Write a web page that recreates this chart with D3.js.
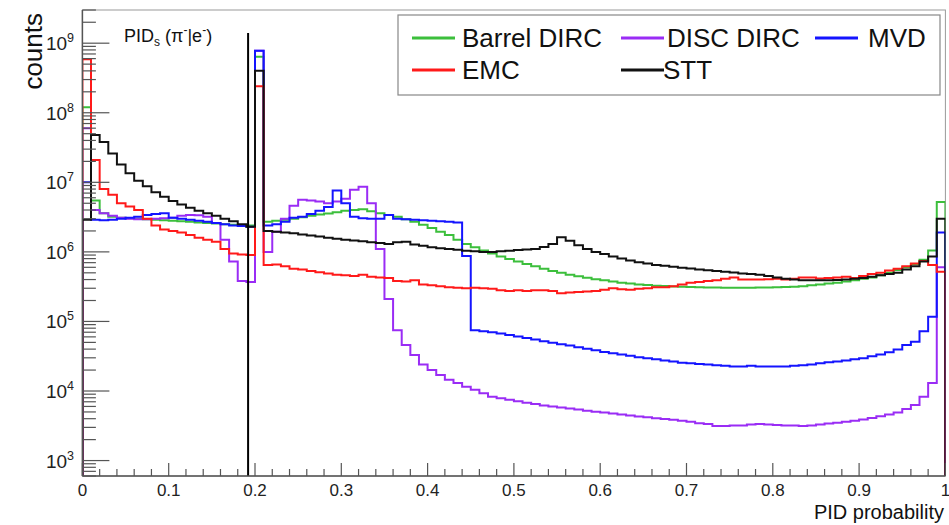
<!DOCTYPE html>
<html><head><meta charset="utf-8">
<script src="https://cdn.jsdelivr.net/npm/d3@7"></script>
<style>body{margin:0;background:#fff} svg{display:block} text{font-family:"Liberation Sans",Arial,Helvetica,sans-serif}</style>
</head><body><svg id="c" width="949" height="525"></svg>
<script>
// ---- data (100 bins of PID probability, width 0.01) ----
const nBins = 100;
const xDomain = [0, 1];
const xTickLabels = ["0","0.1","0.2","0.3","0.4","0.5","0.6","0.7","0.8","0.9","1"];
const yTickExponents = [3,4,5,6,7,8,9];
const cutValue = 0.192;

const barrelDIRC = [1.2e8,5.5e6,3.6e6,3.2e6,3.1e6,3.05e6,3.0e6,2.95e6,2.9e6,2.85e6,
2.8e6,2.75e6,2.7e6,2.65e6,2.6e6,2.55e6,2.5e6,2.45e6,2.42e6,2.4e6,
6.4e8,2.7e6,2.8e6,2.9e6,3.0e6,3.15e6,3.3e6,3.45e6,3.55e6,3.7e6,
3.9e6,4.0e6,4.1e6,3.85e6,3.6e6,3.4e6,3.2e6,2.95e6,2.7e6,2.45e6,
2.2e6,1.95e6,1.75e6,1.5e6,1.3e6,1.17e6,1.05e6,9.5e5,8.6e5,7.9e5,
7.3e5,6.7e5,6.2e5,5.7e5,5.3e5,5.0e5,4.7e5,4.45e5,4.25e5,4.05e5,
3.9e5,3.75e5,3.6e5,3.5e5,3.4e5,3.33e5,3.27e5,3.22e5,3.18e5,3.15e5,
3.12e5,3.1e5,3.08e5,3.07e5,3.06e5,3.05e5,3.05e5,3.06e5,3.07e5,3.08e5,
3.1e5,3.12e5,3.15e5,3.2e5,3.3e5,3.4e5,3.5e5,3.6e5,3.75e5,3.9e5,
4.1e5,4.3e5,4.6e5,5.0e5,5.5e5,6.0e5,6.7e5,7.7e5,1.05e6,5.2e6];

const discDIRC = [6.0e7,4.0e6,3.6e6,3.3e6,3.1e6,3.0e6,2.95e6,2.95e6,3.0e6,3.05e6,
3.1e6,3.3e6,3.4e6,3.35e6,3.2e6,2.6e6,1.5e6,7.3e5,3.8e5,3.7e5,
7.8e8,1.0e6,1.95e6,3.0e6,4.6e6,5.6e6,5.5e6,5.3e6,5.0e6,5.3e6,
5.8e6,7.8e6,8.6e6,5.0e6,1.1e6,2.1e5,7.5e4,4.6e4,3.3e4,2.4e4,
2.0e4,1.7e4,1.45e4,1.3e4,1.15e4,1.04e4,9.3e3,8.3e3,7.9e3,7.5e3,
7.1e3,6.8e3,6.5e3,6.2e3,6.0e3,5.8e3,5.6e3,5.4e3,5.2e3,5.05e3,
4.9e3,4.75e3,4.6e3,4.45e3,4.3e3,4.2e3,4.05e3,3.95e3,3.85e3,3.75e3,
3.6e3,3.45e3,3.35e3,3.15e3,3.15e3,3.2e3,3.2e3,3.3e3,3.35e3,3.3e3,
3.25e3,3.2e3,3.2e3,3.15e3,3.2e3,3.3e3,3.4e3,3.5e3,3.6e3,3.75e3,
3.9e3,4.1e3,4.35e3,4.6e3,4.9e3,5.5e3,6.3e3,8.3e3,1.3e4,6.0e5];

const mvd = [1.0e7,2.9e6,2.85e6,2.9e6,3.0e6,3.1e6,3.2e6,3.4e6,3.5e6,3.6e6,
3.1e6,3.0e6,2.9e6,2.8e6,2.7e6,2.6e6,2.5e6,2.4e6,2.35e6,2.3e6,
7.8e8,2.4e6,2.5e6,2.7e6,3.1e6,3.2e6,3.5e6,3.9e6,4.4e6,7.6e6,
5.0e6,3.2e6,3.05e6,3.0e6,3.0e6,3.4e6,3.0e6,2.95e6,2.9e6,2.85e6,
2.8e6,2.75e6,2.7e6,2.65e6,8.7e5,7.5e4,7.2e4,7.0e4,6.7e4,6.4e4,
6.1e4,5.8e4,5.5e4,5.2e4,4.95e4,4.7e4,4.5e4,4.25e4,4.05e4,3.85e4,
3.65e4,3.5e4,3.35e4,3.2e4,3.05e4,2.95e4,2.85e4,2.75e4,2.65e4,2.55e4,
2.5e4,2.45e4,2.4e4,2.35e4,2.3e4,2.25e4,2.25e4,2.3e4,2.25e4,2.25e4,
2.25e4,2.25e4,2.3e4,2.35e4,2.4e4,2.5e4,2.6e4,2.65e4,2.75e4,2.85e4,
2.95e4,3.15e4,3.35e4,3.6e4,3.95e4,4.6e4,5.1e4,7.2e4,1.17e5,1.9e6];

const emc = [5.9e8,2.1e7,8.0e6,6.6e6,5.0e6,4.5e6,4.0e6,3.0e6,2.4e6,2.1e6,
2.0e6,1.9e6,1.75e6,1.6e6,1.5e6,1.4e6,1.1e6,9.5e5,9.2e5,9.0e5,
2.4e8,6.5e5,6.6e5,6.2e5,5.7e5,5.6e5,5.3e5,5.1e5,4.9e5,4.7e5,
4.6e5,4.5e5,4.7e5,4.4e5,4.3e5,4.2e5,3.8e5,3.75e5,3.9e5,3.4e5,
3.3e5,3.2e5,3.1e5,3.05e5,3.0e5,3.05e5,3.0e5,2.95e5,2.8e5,2.75e5,
2.8e5,2.75e5,2.8e5,2.8e5,2.75e5,2.55e5,2.6e5,2.65e5,2.7e5,2.75e5,
2.85e5,3.0e5,2.9e5,2.85e5,2.95e5,3.0e5,3.1e5,3.1e5,3.2e5,3.4e5,
3.6e5,3.7e5,3.8e5,3.9e5,4.1e5,4.3e5,4.0e5,4.0e5,4.0e5,4.05e5,
4.1e5,4.0e5,4.1e5,4.3e5,4.3e5,4.15e5,4.2e5,4.3e5,4.4e5,4.2e5,
4.5e5,4.8e5,5.0e5,5.4e5,5.7e5,6.2e5,6.8e5,7.4e5,6.5e5,5.2e5];

const stt = [2.9e6,4.8e7,3.8e7,2.6e7,1.8e7,1.35e7,1.05e7,8.8e6,7.2e6,6.2e6,
5.4e6,4.8e6,4.3e6,3.9e6,3.6e6,3.3e6,3.0e6,2.75e6,2.5e6,2.3e6,
4.0e8,2.0e6,1.95e6,1.9e6,1.85e6,1.78e6,1.72e6,1.66e6,1.6e6,1.55e6,
1.5e6,1.46e6,1.42e6,1.38e6,1.34e6,1.3e6,1.38e6,1.4e6,1.28e6,1.22e6,
1.17e6,1.13e6,1.1e6,1.07e6,1.04e6,1.02e6,1.0e6,1.0e6,1.02e6,1.04e6,
1.06e6,1.08e6,1.1e6,1.18e6,1.3e6,1.62e6,1.45e6,1.25e6,1.1e6,1.0e6,
9.3e5,8.6e5,8.0e5,7.5e5,7.1e5,6.8e5,6.5e5,6.3e5,6.1e5,5.9e5,
5.75e5,5.6e5,5.45e5,5.3e5,5.2e5,5.05e5,4.9e5,4.8e5,4.7e5,4.5e5,
4.3e5,4.1e5,4.0e5,3.9e5,3.9e5,3.9e5,3.9e5,3.95e5,4.0e5,4.1e5,
4.2e5,4.4e5,4.6e5,4.8e5,5.0e5,5.6e5,6.2e5,7.3e5,8.6e5,3.0e6];

const seriesNames = ["Barrel DIRC","DISC DIRC","MVD","EMC","STT"];
const seriesColors = ["#3cbf3c","#9a2cf5","#1414ff","#ff1a1a","#111111"];
const seriesData = [barrelDIRC, discDIRC, mvd, emc, stt];
const drawOrder = [0,1,2,3,4];

// ---- layout ----
const L = 82.4, R = 945.4, T = 10, B = 476;
const svg = d3.select("#c");
const x = d3.scaleLinear().domain(xDomain).range([L, R]);
const y = d3.scaleLog().domain([600, 3.0e9]).range([B, T]);

svg.append("defs").append("clipPath").attr("id","clip")
  .append("rect").attr("x",L).attr("y",T).attr("width",R-L).attr("height",B-T);

// frame
svg.append("rect").attr("x",L).attr("y",T).attr("width",R-L).attr("height",B-T)
  .attr("fill","none").attr("stroke","#9a9a9a").attr("stroke-width",1);

// histograms
const line = d3.line().x(d=>x(d[0])).y(d=>y(d[1]));
const g = svg.append("g").attr("clip-path","url(#clip)");
drawOrder.forEach(si => {
  const vals = seriesData[si];
  const pts = [[xDomain[0], 600]];
  vals.forEach((v,i) => {
    const lo = xDomain[0] + (xDomain[1]-xDomain[0])*i/nBins;
    const hi = xDomain[0] + (xDomain[1]-xDomain[0])*(i+1)/nBins;
    pts.push([lo, v]); pts.push([hi, v]);
  });
  pts.push([xDomain[1], 600]);
  g.append("path").attr("d", line(pts)).attr("fill","none")
    .attr("stroke", seriesColors[si]).attr("stroke-width",2)
    .attr("stroke-linejoin","miter");
});

// cut line
svg.append("line").attr("x1",x(cutValue)).attr("x2",x(cutValue))
  .attr("y1",33).attr("y2",B).attr("stroke","#000").attr("stroke-width",2);

// axes
const axisCol = "#555";
svg.append("line").attr("x1",L).attr("x2",L).attr("y1",T).attr("y2",B).attr("stroke",axisCol).attr("stroke-width",1.5);
svg.append("line").attr("x1",L).attr("x2",R).attr("y1",B).attr("y2",B).attr("stroke",axisCol).attr("stroke-width",1.5);

// y ticks
const yt = y.ticks(100).filter(v => v>=600 && v<=3.0e9);
yt.forEach(v => {
  const major = Math.abs(Math.log10(v) - Math.round(Math.log10(v))) < 1e-9;
  svg.append("line").attr("x1",L).attr("x2",L+(major?27:13.5))
    .attr("y1",y(v)).attr("y2",y(v)).attr("stroke",axisCol).attr("stroke-width",1.2);
});
yTickExponents.forEach(e => {
  const t = svg.append("text").attr("x",74).attr("y",y(Math.pow(10,e))+7)
    .attr("text-anchor","end").attr("font-size",19).attr("fill","#222");
  t.append("tspan").text("10");
  t.append("tspan").attr("font-size",12.5).attr("dy",-8).text(e);
});

// x ticks
d3.range(0, 51).forEach(k => {
  const v = xDomain[0] + (xDomain[1]-xDomain[0])*k/50;
  const major = k % 5 === 0;
  svg.append("line").attr("x1",x(v)).attr("x2",x(v))
    .attr("y1",B).attr("y2",B-(major?13:7)).attr("stroke",axisCol).attr("stroke-width",1.2);
});
xTickLabels.forEach((s,i) => {
  svg.append("text").attr("x",x(i/10)).attr("y",496).attr("text-anchor","middle")
    .attr("font-size",17).attr("fill","#222").text(s);
});

// axis titles
svg.append("text").attr("x",944).attr("y",519).attr("text-anchor","end")
  .attr("font-size",20).attr("fill","#111").text("PID probability");
svg.append("text").attr("transform","translate(42,13) rotate(-90)")
  .attr("text-anchor","end").attr("font-size",26).attr("fill","#111").text("counts");

// PID label
const pt = svg.append("text").attr("x",124).attr("y",42).attr("font-size",18).attr("fill","#111");
pt.append("tspan").text("PID");
pt.append("tspan").attr("font-size",12).attr("dy",4).text("s");
pt.append("tspan").attr("dy",-4).text(" (π");
pt.append("tspan").attr("font-size",12).attr("dy",-8).text("-");
pt.append("tspan").attr("dy",8).text("|e");
pt.append("tspan").attr("font-size",12).attr("dy",-8).text("-");
pt.append("tspan").attr("dy",8).text(")");

// legend
svg.append("rect").attr("x",398).attr("y",15).attr("width",542).attr("height",80)
  .attr("fill","#fff").attr("stroke","#888").attr("stroke-width",1.2);
const legPos = [[412,38],[621,38],[815,38],[412,70],[621,70]];
const textX = [462,667,868,462,663];
seriesNames.forEach((n,i) => {
  const [lx,ly] = legPos[i];
  svg.append("line").attr("x1",lx).attr("x2",lx+43).attr("y1",ly).attr("y2",ly)
    .attr("stroke",seriesColors[i]).attr("stroke-width",3);
  svg.append("text").attr("x",textX[i]).attr("y",ly+9).attr("font-size",26)
    .attr("fill","#111").text(n);
});
</script></body></html>
